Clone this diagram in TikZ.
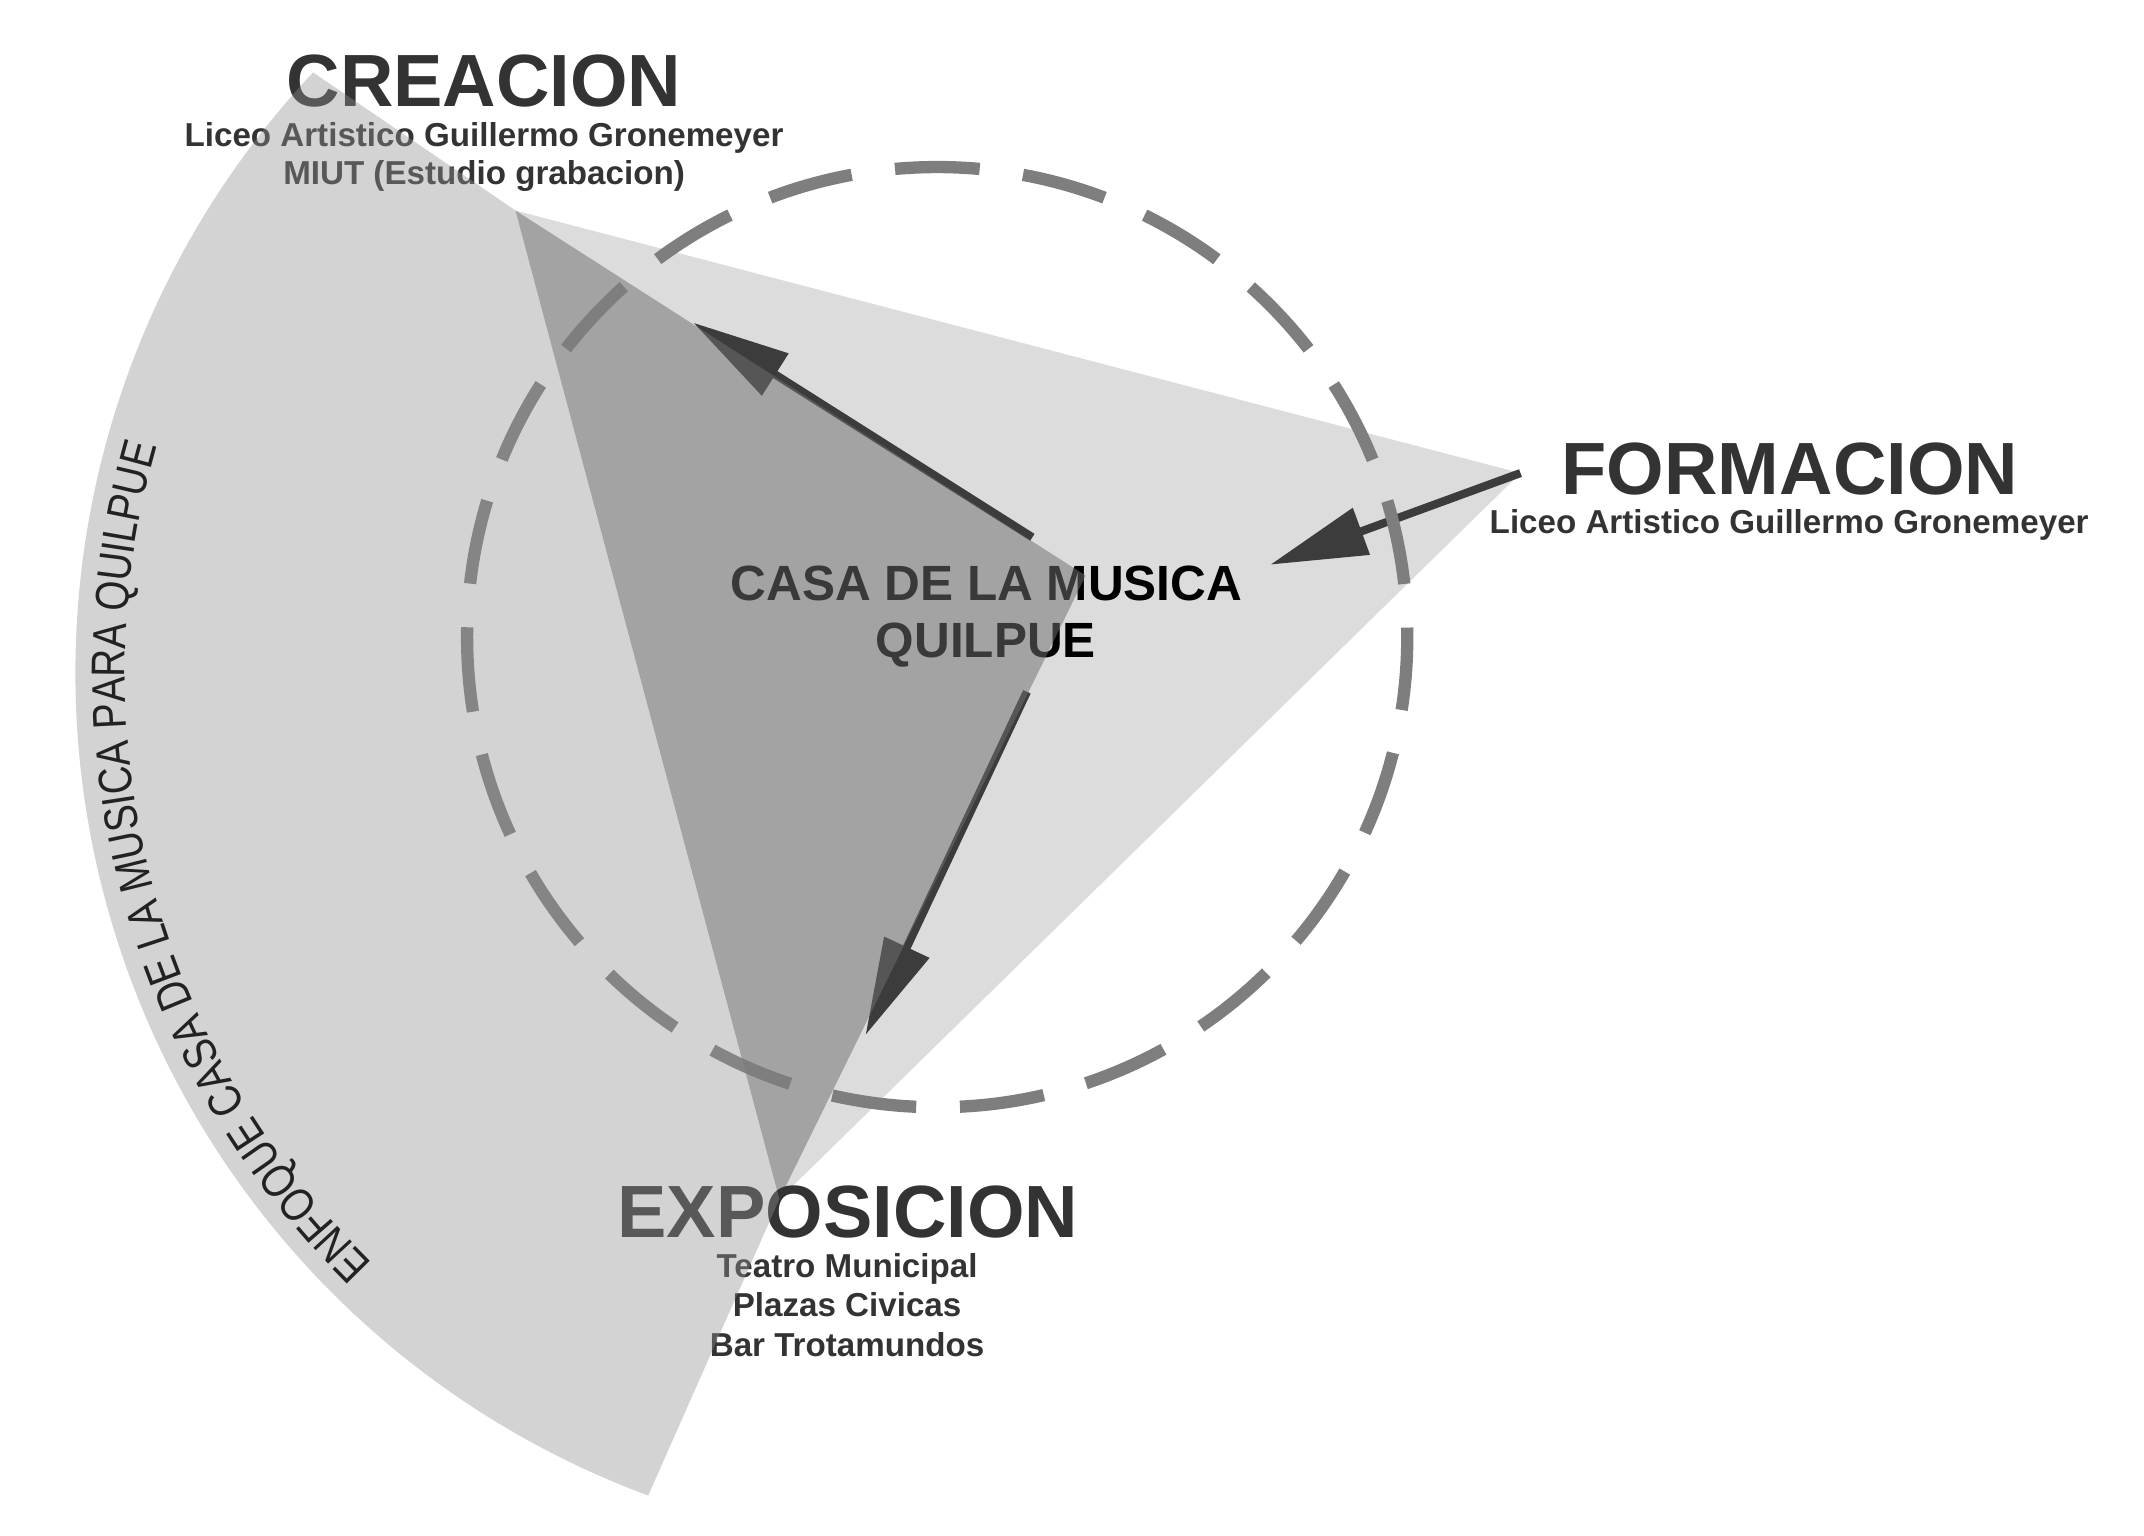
\documentclass[tikz,border=0pt]{standalone}
\usepackage{fontspec}
\setmainfont{Liberation Sans}
\newfontfamily\arcfont[FakeStretch=0.82]{Liberation Sans}
\usepackage{tikz}
\usetikzlibrary{positioning,arrows.meta,decorations.text}

\definecolor{textgray}{HTML}{333333}
\definecolor{arcgray}{HTML}{222222}
\definecolor{formfill}{HTML}{DCDCDC}
\definecolor{triafill}{HTML}{6F6F6F}
\definecolor{sectfill}{HTML}{909090}
\definecolor{dashgray}{HTML}{7E7E7E}
\definecolor{arrowgray}{HTML}{3C3C3C}

\begin{document}
\begin{tikzpicture}[x=0.1mm, y=0.1mm,
    title/.style={font=\fontsize{15.4}{18}\selectfont\bfseries, text=textgray, inner sep=0pt, anchor=base},
    place/.style={font=\fontsize{6.9}{8}\selectfont\bfseries, text=textgray, inner sep=0pt, anchor=base},
    centre/.style={font=\fontsize{10.3}{12}\selectfont\bfseries, text=black, inner sep=0pt, anchor=base},
    link/.style={draw=arrowgray, line width=1.7pt, -{Triangle[length=7.1mm, width=3.5mm]}}]
        \useasboundingbox (0,0) rectangle (1568,1123);

        % Corners
        \coordinate (top) at (229,1070);
        \coordinate (cre) at (377,969);
        \coordinate (form) at (1112,777);
        \coordinate (expo) at (570,246);
        \coordinate (mid) at (794,702);
        \coordinate (hub) at (696.4,630.7);
        \coordinate (ring) at (685.4,657);

        % Arrow ends
        \coordinate (toCre) at (755,730);
        \coordinate (atCre) at (507,887);
        \coordinate (toExpo) at (751,617);
        \coordinate (atExpo) at (633,366);
        \coordinate (atCasa) at (929,710);

        % Formacion triangle
        \fill[formfill] (cre) -- (form) -- (expo) -- cycle;

        % Centre
        \node[centre] (casa) at (721.5,684) {CASA DE LA MUSICA};
        \node[centre] (quilpue) at (721,642) {QUILPUE};

        % Arrows
        \draw[link] (toCre) -- (atCre);
        \draw[link] (toExpo) -- (atExpo);
        \draw[link] (form) -- (atCasa);

        % Inner triangle
        \fill[triafill, fill opacity=0.52] (cre) -- (mid) -- (expo) -- cycle;

        % Ring
        \draw[dashgray, line width=0.9mm, dash pattern=on 6.2mm off 3.2mm, dash phase=5.5mm] (ring) circle[radius=34.38mm];

        % Nodes
        \node[title] (creacion) at (354,1045) {CREACION};
        \node[place] (creaA) at (354,1016) {Liceo Artistico Guillermo Gronemeyer};
        \node[place] (creaB) at (354,988) {MIUT (Estudio grabacion)};
        \node[title] (formacion) at (1309,761) {FORMACION};
        \node[place] (formA) at (1308.5,733) {Liceo Artistico Guillermo Gronemeyer};
        \node[title] (exposicion) at (620,218) {EXPOSICION};
        \node[place] (expoA) at (619.5,189) {Teatro Municipal};
        \node[place] (expoB) at (619.5,160) {Plazas Civicas};
        \node[place] (expoC) at (619.5,131) {Bar Trotamundos};

        % Outer sector
        \fill[sectfill, fill opacity=0.4] (top) arc[start angle=136.8, end angle=249.7, radius=64.15mm] -- (expo) -- (cre) -- cycle;
        \path[decorate, decoration={text along path, text align=center,
            text={|\arcfont\fontsize{9.8}{11}\selectfont\color{arcgray}|ENFOQUE CASA DE LA MUSICA PARA QUILPUE}}]
            (hub) ++(228:60.5mm) arc[start angle=228, end angle=161.6, radius=60.5mm];
    \end{tikzpicture}
\end{document}
